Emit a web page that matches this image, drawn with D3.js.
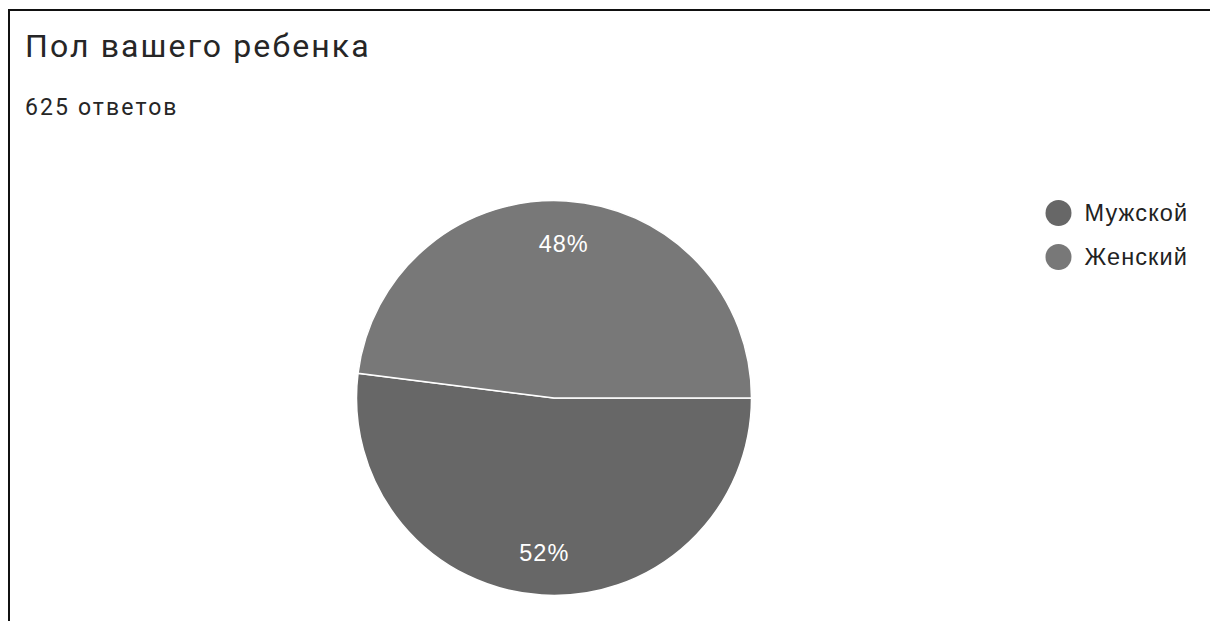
<!DOCTYPE html>
<html>
<head>
<meta charset="utf-8">
<script src="https://cdn.jsdelivr.net/npm/d3@7"></script>
<style>
  html, body { margin: 0; padding: 0; background: #fff; }
  svg { display: block; }
</style>
</head>
<body>
<svg id="chart" width="1210" height="621"></svg>
<script>
// Survey question and answer breakdown
const title = "Пол вашего ребенка";
const subtitle = "625 ответов";
const categories = ["Мужской", "Женский"];
const percents = [52, 48];
const colors = ["#676767", "#787878"];

const svg = d3.select("#chart");

// Card frame: left and top edges
svg.append("line").attr("x1", 9).attr("y1", 10).attr("x2", 1210).attr("y2", 10)
  .attr("stroke", "#111").attr("stroke-width", 2);
svg.append("line").attr("x1", 9).attr("y1", 9).attr("x2", 9).attr("y2", 621)
  .attr("stroke", "#111").attr("stroke-width", 2);

svg.append("text").attr("x", 25).attr("y", 57)
  .attr("font-family", "Roboto").attr("font-size", 32).attr("fill", "#262626")
  .attr("letter-spacing", 2.1)
  .text(title);
svg.append("text").attr("x", 25).attr("y", 115)
  .attr("font-family", "Roboto").attr("font-size", 23).attr("fill", "#262626")
  .attr("letter-spacing", 2.1)
  .text(subtitle);

// Pie
const cx = 554, cy = 398, R = 197.5;
const color = d3.scaleOrdinal().domain(categories).range(colors);
const data = categories.map((c, i) => ({ name: c, value: percents[i] }));
const pie = d3.pie().value(d => d.value).sort(null)
  .startAngle(Math.PI / 2).endAngle(Math.PI / 2 + 2 * Math.PI);
const arcs = pie(data);
const arc = d3.arc().innerRadius(0).outerRadius(R);
const labelArc = d3.arc().innerRadius(R * 0.785).outerRadius(R * 0.785);

const g = svg.append("g").attr("transform", `translate(${cx},${cy})`);
g.selectAll("path").data(arcs).join("path")
  .attr("d", arc)
  .attr("fill", d => color(d.data.name))
  .attr("stroke", "#fff").attr("stroke-width", 1.5);

g.selectAll("text.lbl").data(arcs).join("text")
  .attr("class", "lbl")
  .attr("transform", d => `translate(${labelArc.centroid(d)})`)
  .attr("text-anchor", "middle").attr("dy", "0.36em")
  .attr("font-family", "Liberation Sans, Arial").attr("font-size", 23.5)
  .attr("letter-spacing", 1)
  .attr("fill", "#fff")
  .text(d => d.data.value + "%");

// Legend
const legend = svg.append("g").attr("transform", "translate(1058.5,213)");
const items = legend.selectAll("g").data(categories).join("g")
  .attr("transform", (d, i) => `translate(0,${i * 44})`);
items.append("circle").attr("r", 13).attr("fill", d => color(d));
items.append("text").attr("x", 26).attr("dy", "0.36em")
  .attr("font-family", "Liberation Sans, Arial").attr("font-size", 23.5)
  .attr("letter-spacing", 1.1)
  .attr("fill", "#222").text(d => d);
</script>
</body>
</html>
